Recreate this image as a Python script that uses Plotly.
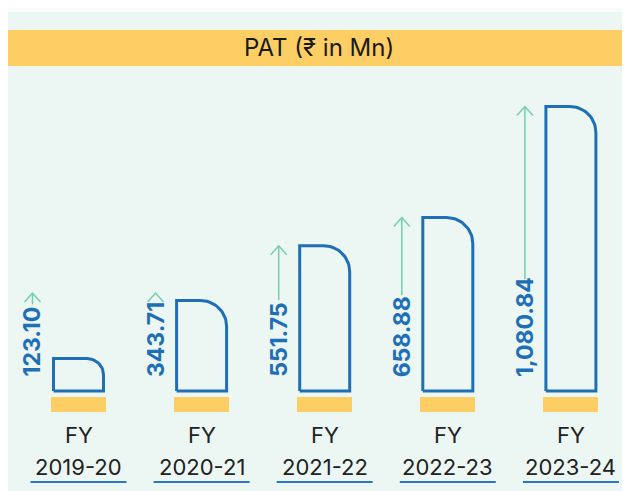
import numpy as np
import plotly.graph_objects as go

# data
years = ["2019-20", "2020-21", "2021-22", "2022-23", "2023-24"]
pat = [123.10, 343.71, 551.75, 658.88, 1080.84]
pat_labels = ["123.10", "343.71", "551.75", "658.88", "1,080.84"]

W, H = 630, 491
MT = 4
X_RANGE = [-0.5727, 4.545]
Y_RANGE = [-410.3, 1440]
px_x = W / (X_RANGE[1] - X_RANGE[0])          # pixels per x unit
px_y = (H - MT) / (Y_RANGE[1] - Y_RANGE[0])   # pixels per y unit

BLUE = "#1f6fb6"
GREEN = "#72cfab"
YELLOW = "#fdce63"
MINT = "#ecf6f2"
LAB_SIZE = 23


def dy(p):
    return p / px_y


def dx(p):
    return p / px_x


def label_len(s, size):
    w = 0
    for c in s:
        if c == "1":
            w += 0.42
        elif c in ".,":
            w += 0.28
        else:
            w += 0.62
    return w * size


fig = go.Figure()

# yellow bases under bars
fig.add_trace(go.Bar(x=list(range(len(years))), y=[dy(15)] * len(years), base=-dy(21),
                     width=dx(55), marker_color=YELLOW, marker_line_width=0,
                     hoverinfo="skip", showlegend=False))

half = dx(25)
for i, v in enumerate(pat):
    h_px = v * px_y
    r = min(26, h_px / 2)
    rx, ry = dx(r), dy(r)
    xl, xr = i - half, i + half
    t = np.linspace(np.pi / 2, 0, 20)
    xs = [xl, xl, xr - rx] + list(xr - rx + rx * np.cos(t)) + [xr, xl]
    ys = [0, v, v] + list(v - ry + ry * np.sin(t)) + [0, 0]
    fig.add_trace(go.Scatter(x=xs, y=ys, mode="lines", line=dict(color=BLUE, width=3),
                             hoverinfo="skip", showlegend=False))

    # arrow + value label
    ax = i - dx(46)
    tip = max(v, dy(98))
    lab_y = dy(12)
    lab_top = lab_y + dy(label_len(pat_labels[i], LAB_SIZE) + 6)
    fig.add_trace(go.Scatter(x=[ax - dx(8), ax, ax + dx(8)], y=[tip - dy(9), tip, tip - dy(9)],
                             mode="lines", line=dict(color=GREEN, width=1.5),
                             hoverinfo="skip", showlegend=False))
    if tip - lab_top > dy(10):
        fig.add_trace(go.Scatter(x=[ax, ax], y=[tip, lab_top], mode="lines",
                                 line=dict(color=GREEN, width=1.5),
                                 hoverinfo="skip", showlegend=False))
    fig.add_annotation(x=ax, y=lab_y, text="<b>" + pat_labels[i] + "</b>", textangle=-90,
                       xanchor="center", yanchor="bottom", showarrow=False,
                       font=dict(family="Inter", size=LAB_SIZE, color=BLUE))

    # category labels
    fig.add_annotation(x=i, y=-dy(44), text="FY", showarrow=False, yanchor="middle",
                       font=dict(family="Inter", size=22, color="#222222"))
    fig.add_annotation(x=i, y=-dy(76), text=years[i], showarrow=False, yanchor="middle",
                       font=dict(family="Inter", size=22, color="#222222"))
    fig.add_shape(type="line", x0=i - dx(48), x1=i + dx(48), y0=-dy(91), y1=-dy(91),
                  line=dict(color="#2a78c2", width=2))

# title banner
fig.add_shape(type="rect", xref="paper", yref="paper", x0=0, x1=1,
              y0=1 - (58 - MT) / (H - MT), y1=1 - (22 - MT) / (H - MT),
              fillcolor=YELLOW, line_width=0, layer="below")
fig.add_annotation(xref="paper", yref="paper", x=(311 / W), y=1 - (40 - MT) / (H - MT),
                   text="PAT (₹ in Mn)", showarrow=False, yanchor="middle",
                   font=dict(family="Inter", size=24, color="#1a1a1a"))

fig.update_xaxes(range=X_RANGE, visible=False, fixedrange=True)
fig.update_yaxes(range=Y_RANGE, visible=False, fixedrange=True)
fig.update_layout(width=W, height=H, margin=dict(l=0, r=0, t=MT, b=0),
                  paper_bgcolor="#fafbfb", plot_bgcolor=MINT, bargap=0)

fig.write_html("out.html")
